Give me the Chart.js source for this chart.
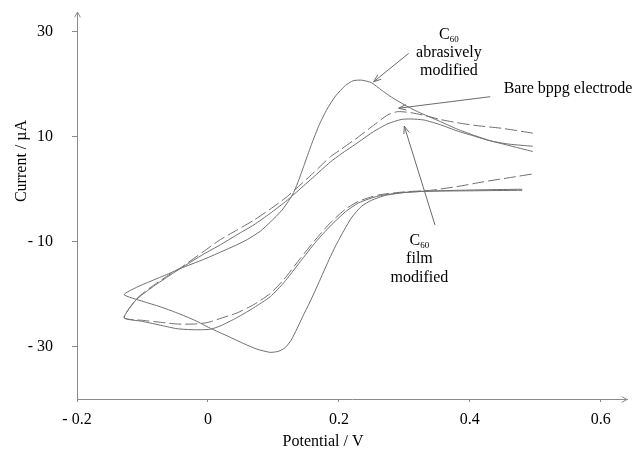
<!DOCTYPE html>
<html>
<head>
<meta charset="utf-8">
<script src="https://cdn.jsdelivr.net/npm/chart.js@4.4.1/dist/chart.umd.min.js"></script>
<style>
  body { margin: 0; background: #fff; }
  #wrap { width: 634px; height: 449px; }
</style>
</head>
<body>
<div id="wrap"><canvas id="cv" width="634" height="449"></canvas></div>
<script>
// Potential (V) / current (uA) pairs.
// Each trace: upper branch from right to left, then lower branch back to the right.
const abrasiveV = [0.496, 0.458, 0.43, 0.406, 0.38, 0.355, 0.32, 0.30, 0.28, 0.265, 0.25, 0.235, 0.222, 0.21, 0.195, 0.182, 0.17, 0.158, 0.146, 0.137, 0.129, 0.113, 0.095, 0.08, 0.06, 0.044, 0.019, -0.007, -0.042, -0.058, -0.083, -0.109, -0.128,
                   -0.099, -0.073, -0.047, -0.02, 0.0035, 0.03, 0.054, 0.075, 0.095, 0.108, 0.118, 0.127, 0.136, 0.145, 0.155, 0.165, 0.175, 0.185, 0.195, 0.2075, 0.22, 0.235, 0.25, 0.27, 0.295, 0.33, 0.40, 0.48];
const abrasiveI = [7.2, 8.4, 9.3, 10.3, 11.5, 12.9, 14.8, 16.1, 17.6, 18.9, 20.3, 20.8, 20.7, 19.8, 17.8, 15.3, 12.3, 8.5, 4.3, 1.2, -1.1, -4.0, -6.3, -8.0, -9.6, -10.6, -12.0, -13.4, -15.1, -16.0, -17.3, -18.7, -20.1,
                   -21.4, -22.4, -23.6, -25.0, -26.5, -28.0, -29.4, -30.5, -31.1, -30.9, -30.2, -28.8, -26.6, -24.2, -21.7, -19.0, -16.2, -13.4, -10.8, -7.9, -5.3, -3.2, -2.1, -1.2, -0.7, -0.4, -0.3, -0.2];

const bareV = [0.496, 0.45, 0.406, 0.38, 0.355, 0.33, 0.31, 0.29, 0.275, 0.253, 0.23, 0.202, 0.187, 0.16, 0.121, 0.095, 0.07, 0.044, 0.019, -0.007, -0.042, -0.058, -0.083, -0.109, -0.128,
               -0.10, -0.07, -0.047, -0.02, 0.0, 0.02, 0.044, 0.07, 0.095, 0.116, 0.141, 0.165, 0.187, 0.21, 0.23, 0.26, 0.30, 0.34, 0.38, 0.42, 0.46, 0.50];
const bareI = [10.7, 11.6, 12.2, 12.7, 13.3, 14.1, 14.6, 14.8, 14.2, 12.2, 10.0, 7.5, 6.2, 3.0, -1.4, -3.8, -5.9, -7.8, -9.6, -11.9, -15.0, -16.2, -18.3, -20.9, -24.5,
               -25.0, -25.4, -25.7, -25.7, -25.4, -24.6, -23.6, -22.0, -19.9, -17.2, -13.2, -9.5, -6.4, -3.8, -2.3, -1.1, -0.5, -0.2, 0.5, 1.4, 2.2, 3.0];

const filmV = [0.496, 0.46, 0.432, 0.405, 0.381, 0.355, 0.33, 0.31, 0.295, 0.275, 0.253, 0.23, 0.203, 0.187, 0.16, 0.121, 0.095, 0.07, 0.044, 0.019, -0.007, -0.042, -0.058, -0.083, -0.109, -0.128,
               -0.10, -0.07, -0.047, -0.02, 0.0035, 0.02, 0.044, 0.07, 0.095, 0.116, 0.141, 0.165, 0.187, 0.21, 0.23, 0.26, 0.30, 0.35, 0.42, 0.48];
const filmI = [8.2, 8.6, 9.2, 10.2, 11.1, 12.3, 13.2, 13.4, 13.3, 12.5, 11.0, 9.0, 6.7, 5.2, 2.2, -2.1, -4.6, -6.8, -8.7, -10.6, -12.4, -15.1, -16.4, -18.5, -21.0, -24.5,
               -25.2, -26.0, -26.6, -26.8, -26.7, -26.0, -24.5, -22.6, -20.5, -17.8, -13.8, -10.0, -7.0, -4.3, -2.6, -1.3, -0.6, -0.3, -0.1, 0.0];

const xTicks = [-0.2, 0, 0.2, 0.4, 0.6];
const yTicks = [30, 10, -10, -30];

// callout labels (anchor in data units) and pointer arrows (tail -> tip)
const notes = [
  { lines: ['C60', 'abrasively', 'modified'], v: 0.368, i: 28.65, align: 'center', gap: 18 },
  { lines: ['Bare bppg electrode'], v: 0.4516, i: 18.35, align: 'left', gap: 18 },
  { lines: ['C60', 'film', 'modified'], v: 0.323, i: -10.6, align: 'center', gap: 18.5 }
];
const pointers = [
  [0.3065, 25.9, 0.2531, 20.5],
  [0.4311, 17.65, 0.2912, 15.45],
  [0.3467, -6.8, 0.2998, 12.05]
];

const FONT = '"Liberation Serif", "Times New Roman", serif';
const AXIS = '#8a8a8a';

function pts(vs, is) {
  return vs.map((v, k) => ({ x: v, y: is[k] }));
}

function fmt(v) {
  return v < 0 ? '- ' + Math.abs(v) : String(v);
}

function drawLabel(ctx, text, x, base, align) {
  ctx.font = '16px ' + FONT;
  if (text.startsWith('C60')) {
    const wc = ctx.measureText('C').width;
    ctx.font = '9px ' + FONT;
    const ws = ctx.measureText('60').width;
    const x0 = align === 'center' ? x - (wc + ws) / 2 : x;
    ctx.textAlign = 'left';
    ctx.font = '16px ' + FONT;
    ctx.fillText('C', x0, base);
    ctx.font = '9px ' + FONT;
    ctx.fillText('60', x0 + wc, base + 3);
    return;
  }
  ctx.textAlign = align;
  ctx.fillText(text, x, base);
}

function arrowHead(ctx, tx, ty, ang, len, spread) {
  ctx.beginPath();
  ctx.moveTo(tx - len * Math.cos(ang - spread), ty - len * Math.sin(ang - spread));
  ctx.lineTo(tx, ty);
  ctx.lineTo(tx - len * Math.cos(ang + spread), ty - len * Math.sin(ang + spread));
  ctx.stroke();
}

const extras = {
  id: 'extras',
  afterDraw(chart) {
    const { ctx, chartArea: a, scales: { x, y } } = chart;
    ctx.save();
    ctx.lineWidth = 1;

    // arrow tips on both axes
    ctx.strokeStyle = AXIS;
    arrowHead(ctx, a.left + 0.5, a.top, -Math.PI / 2, 6, 0.5);
    arrowHead(ctx, a.right, a.bottom + 0.5, 0, 6, 0.5);

    // pointers
    ctx.strokeStyle = '#6a6a6a';
    pointers.forEach(([v0, i0, v1, i1]) => {
      const x0 = x.getPixelForValue(v0), y0 = y.getPixelForValue(i0);
      const x1 = x.getPixelForValue(v1), y1 = y.getPixelForValue(i1);
      ctx.beginPath();
      ctx.moveTo(x0, y0);
      ctx.lineTo(x1, y1);
      ctx.stroke();
      arrowHead(ctx, x1, y1, Math.atan2(y1 - y0, x1 - x0), 8, 0.35);
    });

    // callout texts
    ctx.fillStyle = '#000';
    ctx.textBaseline = 'alphabetic';
    notes.forEach((n) => {
      const px = x.getPixelForValue(n.v);
      const py = y.getPixelForValue(n.i);
      n.lines.forEach((t, k) => drawLabel(ctx, t, px, py + k * n.gap, n.align));
    });

    // axis titles
    ctx.font = '16px ' + FONT;
    ctx.textAlign = 'center';
    ctx.fillText('Potential / V', a.left + 246, a.bottom + 47);
    ctx.translate(a.left - 51.5, a.top + 149);
    ctx.rotate(-Math.PI / 2);
    ctx.fillText('Current / µA', 0, 0);
    ctx.restore();
  }
};

function trace(label, vs, is, dash) {
  return {
    label: label,
    data: pts(vs, is),
    showLine: true,
    borderColor: '#6e6e6e',
    borderWidth: 1,
    borderDash: dash,
    pointRadius: 0,
    tension: 0.2,
    fill: false
  };
}

new Chart(document.getElementById('cv'), {
  type: 'scatter',
  data: {
    datasets: [
      trace('C60 abrasively modified', abrasiveV, abrasiveI, []),
      trace('Bare bppg electrode', bareV, bareI, [12, 4]),
      trace('C60 film modified', filmV, filmI, [])
    ]
  },
  options: {
    responsive: false,
    animation: false,
    layout: { padding: { top: 12, right: 7, left: 0, bottom: 0 } },
    plugins: { legend: { display: false }, tooltip: { enabled: false } },
    scales: {
      x: {
        type: 'linear',
        min: -0.2,
        max: 0.64,
        afterBuildTicks: (s) => { s.ticks = xTicks.map((v) => ({ value: v })); },
        afterFit: (s) => { s.height = 50; s.paddingLeft = 0; s.paddingRight = 0; },
        grid: { drawOnChartArea: false, drawTicks: true, tickLength: 3, color: AXIS },
        border: { display: true, color: AXIS, width: 1 },
        ticks: { color: '#000', font: { family: FONT, size: 16 }, padding: 8, maxRotation: 0, callback: fmt }
      },
      y: {
        type: 'linear',
        min: -40,
        max: 33.8,
        afterBuildTicks: (s) => { s.ticks = yTicks.map((v) => ({ value: v })); },
        afterFit: (s) => { s.width = 77; s.paddingTop = 0; s.paddingBottom = 0; },
        grid: { drawOnChartArea: false, drawTicks: true, tickLength: 5, color: AXIS },
        border: { display: true, color: AXIS, width: 1 },
        ticks: { color: '#000', font: { family: FONT, size: 16 }, padding: 19, callback: fmt }
      }
    }
  },
  plugins: [extras]
});
</script>
</body>
</html>
